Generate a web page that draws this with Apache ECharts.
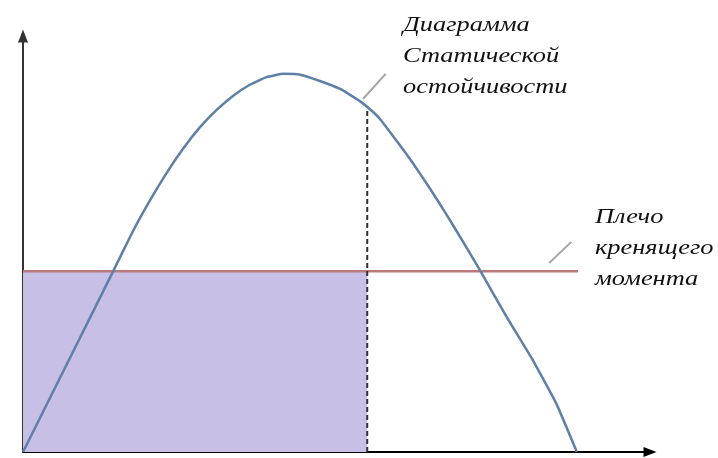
<!DOCTYPE html>
<html>
<head>
<meta charset="utf-8">
<script src="https://cdn.jsdelivr.net/npm/echarts@6/dist/echarts.min.js"></script>
<style>
  html, body { margin: 0; padding: 0; background: #fff; }
  #chart { width: 718px; height: 458px; }
</style>
</head>
<body>
<div id="chart"></div>
<script>
// угол крена (условные единицы) и плечо остойчивости
const heelAngles = [0, 14.7, 17.9, 20.7, 23.4, 26.1, 28.8, 31.5, 34.2, 36.9, 39.6, 42.4, 45.1,
  48.3, 51.6, 53.2, 54.8, 56.5, 58.1, 60.8, 63.5, 66.2, 68.9, 71.6, 74.4, 78.7, 83.0, 86.8, 90.1]
const stabilityArm = [0, 43.1, 52.6, 60.0, 66.5, 72.3, 77.3, 81.4, 84.8, 87.4, 89.2, 90.0, 89.8,
  88.3, 86.4, 85.0, 83.5, 81.5, 79.2, 74.0, 68.6, 62.7, 56.5, 50.0, 43.1, 32.1, 21.7, 11.4, 0]

// плечо кренящего момента
const heelingArm = 43
const heelingLineEnd = 90.3
const dynamicAngle = 56
const dynamicArm = 82

// выноски к подписям
const curveLeader = [[55.3, 84], [59, 90]]
const heelingLeader = [[85.6, 45], [89.2, 50]]

const curveLabel = ['Диаграмма', 'Статической', 'остойчивости']
const heelingLabel = ['Плечо', 'кренящего', 'момента']

const chart = echarts.init(document.getElementById('chart'))

const textStyle = {
  fontFamily: 'Liberation Serif',
  fontStyle: 'italic',
  fontSize: 22,
  fill: '#111'
}

const makeLabel = (lines, x, y0) => lines.map((t, i) => ({
  type: 'text',
  x: x,
  y: y0 + i * 31,
  scaleX: 1.2,
  style: Object.assign({ text: t, verticalAlign: 'top' }, textStyle)
}))

chart.setOption({
  animation: false,
  grid: { left: 23, right: 68, top: 36, bottom: 6 },
  xAxis: {
    type: 'value',
    min: 0,
    max: 102,
    axisLine: {
      onZero: false,
      symbol: ['none', 'triangle'],
      symbolSize: [10, 13],
      lineStyle: { color: '#000', width: 2 }
    },
    axisTick: { show: false },
    axisLabel: { show: false },
    splitLine: { show: false }
  },
  yAxis: {
    type: 'value',
    min: 0,
    max: 99,
    axisLine: {
      show: true,
      onZero: false,
      symbol: ['none', 'triangle'],
      symbolSize: [10, 13],
      lineStyle: { color: '#333', width: 2 }
    },
    axisTick: { show: false },
    axisLabel: { show: false },
    splitLine: { show: false }
  },
  series: [
    {
      // заштрихованная площадь
      type: 'line',
      data: [[0, heelingArm], [dynamicAngle, heelingArm]],
      symbol: 'none',
      lineStyle: { width: 0 },
      areaStyle: { color: '#c8bfe7', opacity: 1 },
      z: 1
    },
    {
      type: 'line',
      data: [[0, heelingArm], [heelingLineEnd, heelingArm]],
      symbol: 'none',
      lineStyle: { color: '#b97a7b', width: 2.5 },
      z: 3
    },
    {
      type: 'line',
      data: [[dynamicAngle, 0], [dynamicAngle, dynamicArm]],
      symbol: 'none',
      lineStyle: { color: '#2f2f3f', width: 2, type: [5, 3] },
      z: 4
    },
    {
      type: 'line',
      data: heelAngles.map((a, i) => [a, stabilityArm[i]]),
      smooth: 0.12,
      symbol: 'none',
      lineStyle: { color: '#5e7fa6', width: 2.5, join: 'round' },
      z: 5
    },
    {
      type: 'line',
      data: curveLeader,
      symbol: 'none',
      lineStyle: { color: '#a5a5a5', width: 2 }
    },
    {
      type: 'line',
      data: heelingLeader,
      symbol: 'none',
      lineStyle: { color: '#a5a5a5', width: 2 }
    }
  ],
  graphic: [
    ...makeLabel(curveLabel, 403, 14),
    ...makeLabel(heelingLabel, 595, 206)
  ]
})
</script>
</body>
</html>
